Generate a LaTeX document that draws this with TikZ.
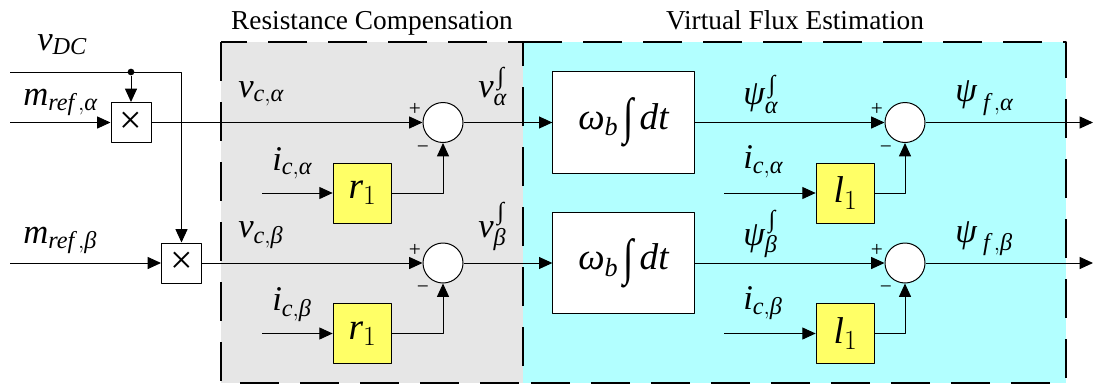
\documentclass[tikz,border=0pt]{standalone}
\usepackage{amstext}
\usepackage{fontspec}
\setmainfont{Liberation Serif}
\usetikzlibrary{arrows.meta,positioning}

\definecolor{compgray}{RGB}{230,230,230}
\definecolor{fluxcyan}{RGB}{178,255,255}
\definecolor{gainyellow}{RGB}{255,255,102}

% italic letters of the main font inside math
\newcommand{\vi}[1]{\textit{#1}}
\newcommand{\bigint}{\raisebox{-0.12em}{\scalebox{1}[1.35]{∫}}}

\begin{document}
\begin{tikzpicture}[
		x=0.75pt, y=-0.75pt,
		line join=round,
		>={Triangle[length=10pt,width=9pt]},
		wire/.style={->, line width=0.75pt},
		frame/.style={line width=2.2pt, dash pattern=on 29pt off 16pt},
		mulbox/.style={draw, fill=white, line width=0.75pt, minimum width=30pt, minimum height=30pt, inner sep=0pt, font=\fontsize{30}{32}\selectfont},
		gainbox/.style={draw, fill=gainyellow, line width=0.75pt, minimum width=44pt, minimum height=45pt, inner sep=0pt, font=\fontsize{28}{30}\selectfont},
		intbox/.style={draw, fill=white, line width=0.75pt, minimum width=106pt, minimum height=76pt, inner sep=0pt, font=\fontsize{28}{30}\selectfont},
		sumnode/.style={draw, circle, fill=white, line width=0.75pt, minimum size=30pt, inner sep=0pt},
		tapdot/.style={circle, fill, minimum size=5pt, inner sep=0pt},
		lab/.style={font=\fontsize{26}{30}\selectfont, inner sep=0pt, anchor=base west},
		sign/.style={font=\fontsize{16}{18}\selectfont, inner sep=0pt},
		title/.style={font=\fontsize{20.5}{24}\selectfont, inner sep=0pt, anchor=base}
	]
	
	\useasboundingbox (0,0) rectangle (1093,386);
	
	% Regions
	\fill[compgray] (221,42) rectangle (523,383);
	\fill[fluxcyan] (523,42) rectangle (1066,383);
	\draw[frame] (221,42) rectangle (523,383);
	\draw[frame] (523,42) -- (1066,42) -- (1066,383) -- (523,383);
	
	\node[title] (tcomp) at (372,29) {Resistance Compensation};
	\node[title] (tflux) at (795,29) {Virtual Flux Estimation};
	
	% Multipliers
	\node[mulbox] (mula) at (131,122.5) {×};
	\node[mulbox] (mulb) at (181.5,263) {×};
	\node[tapdot] (vdcdot) at (131,72) {};
	\coordinate (vdcin) at (10,72);
	\coordinate (mrefain) at (10,122.5);
	\coordinate (mrefbin) at (10,263);
	
	\draw[wire] (vdcin) -| (mulb.north);
	\draw[wire] (vdcdot) -- (mula.north);
	\draw[wire] (mrefain) -- (mula);
	\draw[wire] (mrefbin) -- (mulb);
	
	\node[lab] (lvdc) at (37,50) {$\vi{v}_{\vi{DC}}$};
	\node[lab] (lmrefa) at (23,105) {$\vi{m}_{\vi{ref}\,,\vi{α}}$};
	\node[lab] (lmrefb) at (23,243) {$\vi{m}_{\vi{ref}\,,\vi{β}}$};
	
	% Rows
	\foreach \r/\y/\g in {a/122.5/α, b/263/β} {
		% Resistance compensation
		\node[sumnode] (sumr\r) at (443,\y) {};
		\node[gainbox] (res\r) at (362.5,\y+70.5) {$\vi{r}_{1}$};
		\coordinate (icr\r) at (262,\y+70.5);
		\draw[wire] (mul\r) -- (sumr\r);
		\draw[wire] (icr\r) -- (res\r);
		\draw[wire] (res\r) -| (sumr\r);
		\node[sign] (pr\r) at (415,\y-13) {+};
		\node[sign] (mr\r) at (423,\y+27) {−};
		\node[lab] (lvc\r) at (238,\y-25.5) {$\vi{v}_{\vi{c},\vi{\g}}$};
		\node[lab] (licr\r) at (272,\y+47.5) {$\vi{i}_{\vi{c},\vi{\g}}$};
		\node[lab] (lvint\r) at (478,\y-25.5) {$\vi{v}^{\,∫}_{\vi{\g}}$};
		
		% Flux estimation
		\node[intbox] (int\r) at (623.5,\y) {$\vi{ω}_{\vi{b}}\,\bigint\,\vi{dt}$};
		\node[sumnode] (sumf\r) at (905,\y) {};
		\node[gainbox] (ind\r) at (845.5,\y+70.5) {$\vi{l}_{1}$};
		\coordinate (icf\r) at (724,\y+70.5);
		\coordinate (out\r) at (1093,\y);
		\draw[wire] (sumr\r) -- (int\r);
		\draw[wire] (int\r) -- (sumf\r);
		\draw[wire] (icf\r) -- (ind\r);
		\draw[wire] (ind\r) -| (sumf\r);
		\draw[wire] (sumf\r) -- (out\r);
		\node[sign] (pf\r) at (877,\y-13) {+};
		\node[sign] (mf\r) at (886,\y+27) {−};
		\node[lab] (lpsi\r) at (743,\y-18) {$\vi{ψ}^{\,∫}_{\vi{\g}}$};
		\node[lab] (licf\r) at (743,\y+46) {$\vi{i}_{\vi{c},\vi{\g}}$};
		\node[lab] (lpsif\r) at (955,\y-21) {$\vi{ψ}_{\;\vi{f}\,,\vi{\g}}$};
	}
	
\end{tikzpicture}
\end{document}
